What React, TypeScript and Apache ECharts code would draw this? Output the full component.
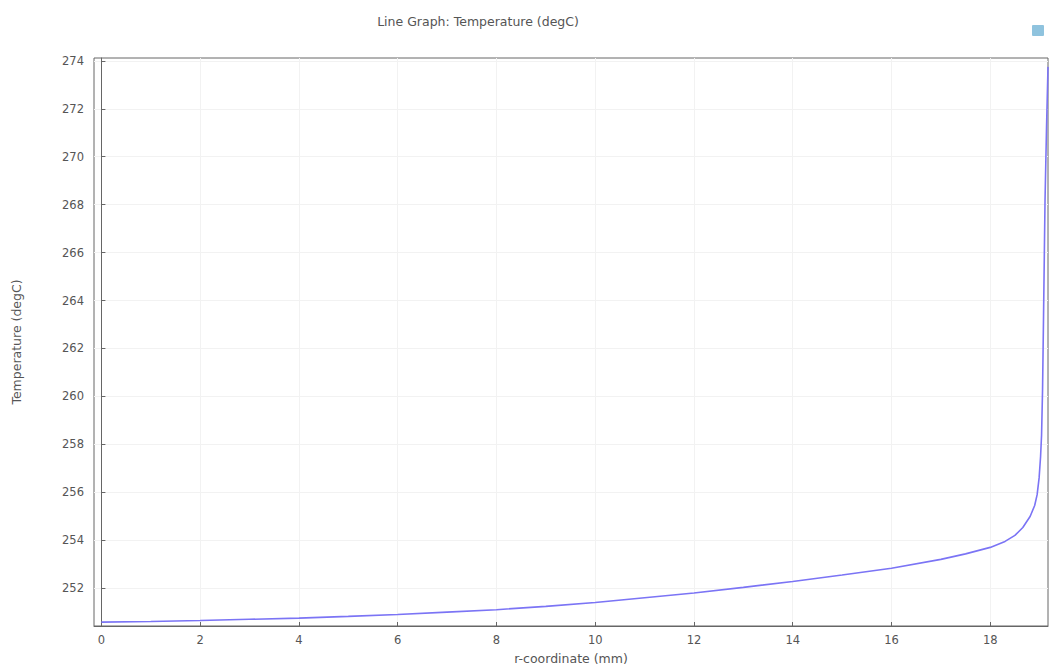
import React, { useEffect, useRef } from "react";
import * as echarts from "echarts";

const xValues = [0, 1, 2, 3, 4, 5, 6, 7, 8, 9, 10, 11, 12, 13, 14, 15, 16, 17, 17.5, 18, 18.3, 18.5, 18.66, 18.81, 18.9, 18.95, 18.99, 19.02, 19.04, 19.06, 19.08, 19.11, 19.14, 19.17];
const tempValues = [250.58, 250.61, 250.65, 250.7, 250.75, 250.82, 250.9, 251.0, 251.1, 251.24, 251.4, 251.6, 251.8, 252.03, 252.28, 252.55, 252.83, 253.2, 253.43, 253.7, 253.95, 254.2, 254.53, 255.0, 255.45, 255.9, 256.6, 257.5, 258.4, 260.3, 263.4, 268.2, 271.2, 273.75];
const xTicks = [0, 2, 4, 6, 8, 10, 12, 14, 16, 18];
const yTicks = [252, 254, 256, 258, 260, 262, 264, 266, 268, 270, 272, 274];

export default function App() {
  const ref = useRef<HTMLDivElement>(null);
  useEffect(() => {
    if (!ref.current) return;
    const chart = echarts.init(ref.current, null, { renderer: "svg" });
    const font = "DejaVu Sans";
    chart.setOption({
      animation: false,
      backgroundColor: "#ffffff",
      title: {
        text: "Line Graph: Temperature (degC)",
        left: 473,
        textAlign: "center",
        top: 10,
        textStyle: { fontSize: 12.5, fontWeight: "normal", color: "#555", fontFamily: font },
      },
      graphic: [
        { type: "rect", left: 1032, top: 25, shape: { width: 12, height: 11, r: 1 }, style: { fill: "#8fc3de" } },
      ],
      grid: { left: 94, right: 3, top: 58, bottom: 41, show: true, borderColor: "#666", borderWidth: 1, backgroundColor: "transparent" },
      xAxis: {
        type: "value",
        min: -0.15,
        max: 19.17,
        name: "r-coordinate (mm)",
        nameLocation: "middle",
        nameGap: 26,
        nameTextStyle: { fontSize: 12.5, color: "#555", fontFamily: font },
        axisLine: { show: true, lineStyle: { color: "#666" } },
        axisTick: { show: true, inside: true, length: 4, customValues: xTicks, lineStyle: { color: "#666" } },
        axisLabel: { customValues: xTicks, fontSize: 11.5, color: "#555", fontFamily: font, margin: 8 },
        splitLine: { show: true, lineStyle: { color: "#f2f2f2" } },
      },
      yAxis: {
        type: "value",
        min: 250.42,
        max: 274.12,
        name: "Temperature (degC)",
        nameLocation: "middle",
        nameGap: 71,
        nameTextStyle: { fontSize: 12.5, color: "#555", fontFamily: font },
        axisLine: { show: true, lineStyle: { color: "#666" } },
        axisTick: { show: true, inside: true, length: 4, customValues: yTicks, lineStyle: { color: "#666" } },
        axisLabel: { customValues: yTicks, fontSize: 11.5, color: "#555", fontFamily: font, margin: 10 },
        splitLine: { show: true, lineStyle: { color: "#f2f2f2" } },
      },
      series: [
        {
          type: "line",
          data: xValues.map((x, i) => [x, tempValues[i]]),
          showSymbol: false,
          smooth: false,
          lineStyle: { color: "#7b74f5", width: 1.6 },
        },
      ],
    });
    return () => chart.dispose();
  }, []);
  return <div ref={ref} style={{ position: "fixed", left: 0, top: 0, width: 1051, height: 670 }} />;
}
